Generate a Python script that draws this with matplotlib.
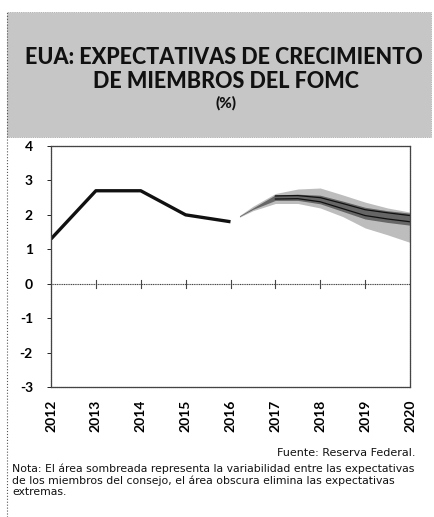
import matplotlib.pyplot as plt
from matplotlib.patches import Rectangle
from matplotlib.lines import Line2D

plt.rcParams['font.family'] = ['Lato', 'DejaVu Sans']

# datos observados
anios = [2012, 2013, 2014, 2015, 2016]
crecimiento = [1.3, 2.7, 2.7, 2.0, 1.8]

# proyecciones FOMC
anios_proy = [2016.2, 2016.5, 2017, 2017.5, 2018, 2018.5, 2019, 2019.5, 2020]
banda_alta = [1.98, 2.25, 2.62, 2.75, 2.78, 2.58, 2.37, 2.2, 2.08]
banda_baja = [1.93, 2.12, 2.33, 2.33, 2.2, 1.95, 1.62, 1.42, 1.2]
central_alta = [1.97, 2.2, 2.58, 2.6, 2.57, 2.4, 2.22, 2.12, 2.05]
central_baja = [1.95, 2.16, 2.42, 2.42, 2.32, 2.1, 1.88, 1.78, 1.7]
anios_lineas = [2017, 2017.5, 2018, 2018.5, 2019, 2019.5, 2020]
linea_1 = [2.55, 2.56, 2.5, 2.33, 2.15, 2.06, 1.98]
linea_2 = [2.46, 2.47, 2.38, 2.18, 1.98, 1.88, 1.8]

ticks_x = [2012, 2013, 2014, 2015, 2016, 2017, 2018, 2019, 2020]
ticks_y = [4, 3, 2, 1, 0, -1, -2, -3]

fig = plt.figure(figsize=(4.35, 5.17), dpi=100)

# encabezado gris
fig.patches.append(Rectangle((7 / 435, 1 - 137 / 517), 424 / 435, 125 / 517,
                             transform=fig.transFigure, facecolor='#c6c6c6',
                             edgecolor='#888888', linewidth=0.5, linestyle=':'))
fig.lines.append(Line2D([7 / 435, 7 / 435], [0, 1 - 12 / 517], transform=fig.transFigure,
                        color='#555555', linewidth=0.8, linestyle=':'))

fig.text(0.515, 1 - 57 / 517, 'EUA: EXPECTATIVAS DE CRECIMIENTO', ha='center', va='center',
         fontsize=15.5, fontweight='black', color='#111111')
fig.text(0.52, 1 - 81 / 517, 'DE MIEMBROS DEL FOMC', ha='center', va='center',
         fontsize=15.5, fontweight='black', color='#111111')
fig.text(0.52, 1 - 103 / 517, '(%)', ha='center', va='center',
         fontsize=11, fontweight='black', color='#111111')

ax = fig.add_axes([51 / 435, 1 - 387 / 517, 359 / 435, 241 / 517])

ax.fill_between(anios_proy, banda_baja, banda_alta, color='#bdbdbd', linewidth=0)
ax.fill_between(anios_proy, central_baja, central_alta, color='#666666', linewidth=0)
ax.plot(anios_lineas, linea_1, color='#111111', linewidth=0.9)
ax.plot(anios_lineas, linea_2, color='#111111', linewidth=0.9)
ax.plot(anios, crecimiento, color='#111111', linewidth=2.4, solid_capstyle='butt')

ax.axhline(0, color='#444444', linewidth=0.8, linestyle=(0, (1, 0.6)))
for x in ticks_x[1:-1]:
    ax.plot([x, x], [-0.12, 0.12], color='#444444', linewidth=0.8)

ax.set_xlim(2012, 2020)
ax.set_ylim(-3, 4)
ax.set_xticks(ticks_x)
ax.set_xticklabels([str(a) for a in ticks_x], rotation=90, fontsize=10, fontweight='bold')
ax.set_yticks(ticks_y)
ax.set_yticklabels([str(v) for v in ticks_y], fontsize=10, fontweight='bold')
ax.tick_params(axis='x', length=0, pad=9)
ax.tick_params(axis='y', length=3, width=0.6, pad=10)
for s in ax.spines.values():
    s.set_color('#444444')
    s.set_linewidth(0.9)
    s.set_linestyle((0, (1, 0.6)))

fig.text(416 / 435, 1 - 453 / 517, 'Fuente: Reserva Federal.', ha='right', va='center',
         fontsize=8, color='#111111', family='DejaVu Sans')
fig.text(12 / 435, 1 - 464 / 517,
         'Nota: El área sombreada representa la variabilidad entre las expectativas\n'
         'de los miembros del consejo, el área obscura elimina las expectativas\n'
         'extremas.',
         ha='left', va='top', fontsize=7.8, color='#111111', linespacing=1.15,
         family='DejaVu Sans')

fig.savefig('out.png', dpi=100)
